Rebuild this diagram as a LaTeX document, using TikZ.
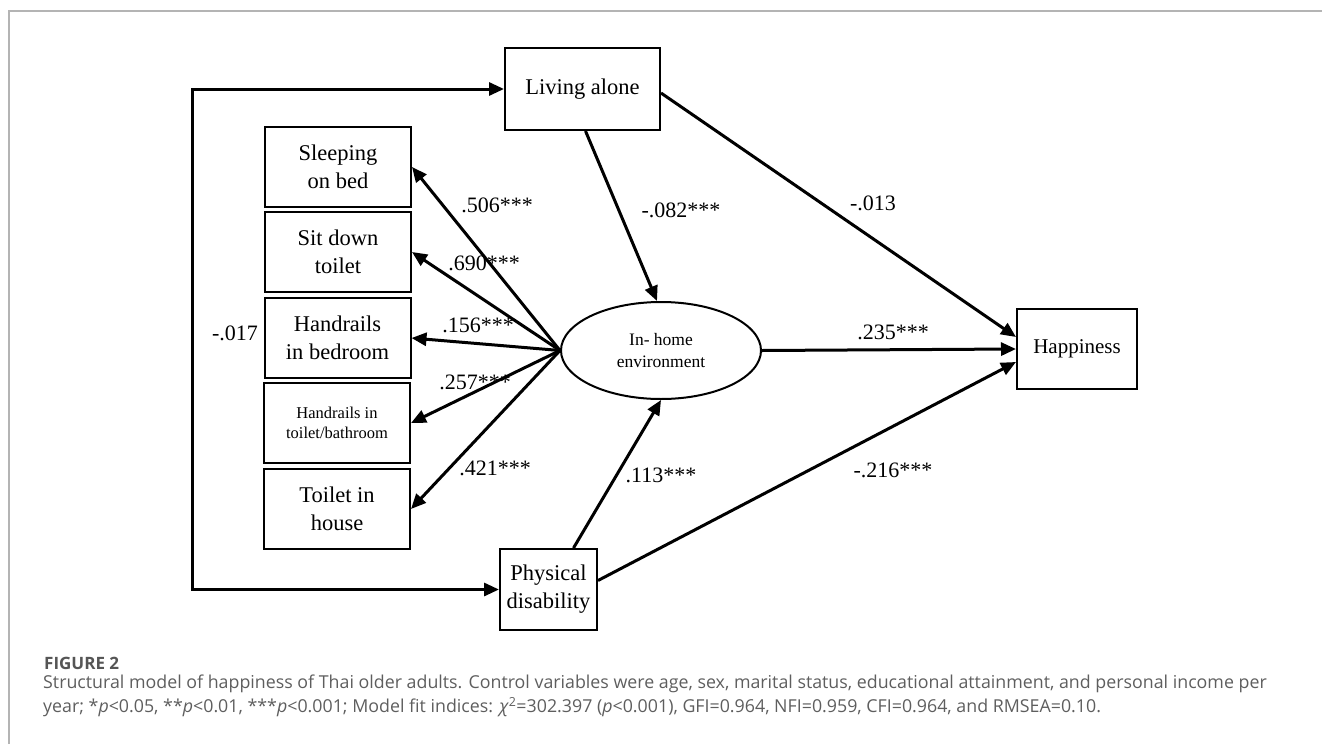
\documentclass[tikz,border=0pt]{standalone}
\usepackage{fontspec}
\setmainfont{Liberation Serif}
\newfontfamily\capfont{Open Sans}
\usetikzlibrary{arrows.meta,shapes.geometric}
\definecolor{capgray}{HTML}{5E5E5E}
\definecolor{framegray}{HTML}{B4B4B4}
\begin{document}
\begin{tikzpicture}[x=1pt,y=-1pt,
  box/.style={draw, line width=2pt, inner sep=0pt, align=center, font=\fontsize{22.5}{28}\selectfont},
  arr/.style={line width=3pt, -{Triangle[length=15pt,width=13pt]}},
  lab/.style={font=\fontsize{22}{26}\selectfont, inner sep=0pt},
  captxt/.style={anchor=west, inner sep=0pt, text=capgray, font=\capfont\fontsize{17.8}{21}\selectfont},
]
\useasboundingbox (0,0) rectangle (1322,744);
% frame
\draw[framegray, line width=2pt] (9,744) -- (9,11) -- (1322,11);

% nodes
\node[box, minimum width=155pt, minimum height=82pt] (living) at (582.5,89) {Living alone};
\node[box, minimum width=146pt, minimum height=80pt] (sleep) at (338,167) {Sleeping\\on bed};
\node[box, minimum width=146pt, minimum height=80pt] (sit) at (338,252) {Sit down\\toilet};
\node[box, minimum width=146pt, minimum height=80pt] (hbed) at (337.5,338) {Handrails\\in bedroom};
\node[box, minimum width=146pt, minimum height=80pt, font=\fontsize{16.5}{19.5}\selectfont] (htoi) at (337,423) {Handrails in\\toilet/bathroom};
\node[box, minimum width=146pt, minimum height=80pt] (thouse) at (337,509) {Toilet in\\house};
\node[box, minimum width=97pt, minimum height=81pt] (phys) at (548.5,589.5) {Physical\\disability};
\node[box, minimum width=120pt, minimum height=80pt, font=\fontsize{21}{26}\selectfont] (happy) at (1077,349) {Happiness};
\node[draw, ellipse, line width=2pt, inner sep=0pt, minimum width=200pt, minimum height=97pt, align=center, font=\fontsize{17.5}{21.5}\selectfont] (env) at (661,350.5) {In- home\\environment};

% connectors
\coordinate (lt) at (192,89);
\coordinate (lb) at (192,589.5);
\draw[line width=3pt, {Triangle[length=15pt,width=13pt]}-{Triangle[length=15pt,width=13pt]}] (living.west) -- (lt) -- (lb) -- (phys.west);

\draw[arr] (env.west) -- (sleep.east);
\draw[arr] (env.west) -- (sit.east);
\draw[arr] (env.west) -- (hbed.east);
\draw[arr] (env.west) -- (htoi.east);
\draw[arr] (env.west) -- (thouse.east);

\draw[arr] ([xshift=3pt]living.south) -- ([xshift=-4pt]env.north);
\draw[arr] ([yshift=-4pt]living.east) -- ([yshift=12pt]happy.west);
\draw[arr] (env.east) -- (happy.west);
\draw[arr] ([xshift=25pt]phys.north) -- (env.south);
\draw[arr] ([yshift=9pt]phys.east) -- ([yshift=-13pt]happy.west);

% labels
\node[lab] (l1) at (497,205) {.506***};
\node[lab] (l2) at (484,263) {.690***};
\node[lab] (l3) at (478,325) {.156***};
\node[lab] (l4) at (475,382) {.257***};
\node[lab] (l5) at (495,468) {.421***};
\node[lab] (l6) at (235,333) {-.017};
\node[lab] (l7) at (681,210) {-.082***};
\node[lab] (l8) at (873,203) {-.013};
\node[lab] (l9) at (893,332) {.235***};
\node[lab] (l10) at (661,475) {.113***};
\node[lab] (l11) at (893,470) {-.216***};

% caption
\node[captxt, text=capgray!90!black, font=\capfont\bfseries\fontsize{17}{19}\selectfont] (fig) at (44,663) {FIGURE 2};
\node[captxt] (c1) at (43,684) {Structural model of happiness of Thai older adults. Control variables were age, sex, marital status, educational attainment, and personal income per};
\node[captxt] (c2) at (43,707) {year; *\textit{p}<0.05, **\textit{p}<0.01, ***\textit{p}<0.001; Model fit indices: \textit{χ}\textsuperscript{2}=302.397 (\textit{p}<0.001), GFI=0.964, NFI=0.959, CFI=0.964, and RMSEA=0.10.};
\end{tikzpicture}
\end{document}
